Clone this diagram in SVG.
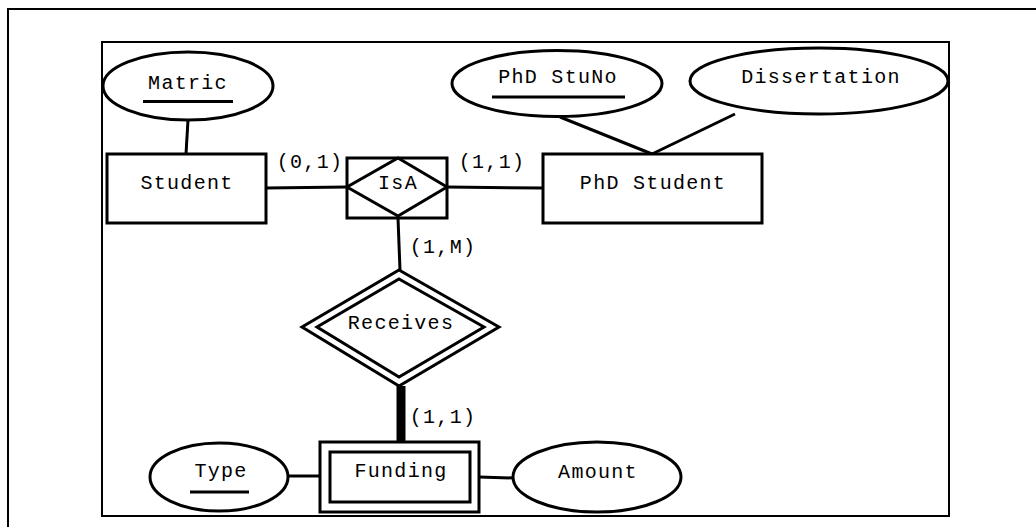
<svg xmlns="http://www.w3.org/2000/svg" width="1036" height="527" viewBox="0 0 1036 527">
<style>
.s{fill:none;stroke:#000;stroke-width:3}
.f{fill:#fff;stroke:#000;stroke-width:3}
.t{font-family:"Liberation Mono","Courier New",monospace;font-size:20px;letter-spacing:1.3px;text-anchor:middle;fill:#000}
.u{stroke:#000;stroke-width:3}
</style>
<rect width="1036" height="527" fill="#fff"/>
<rect id="outer-frame" x="8" y="9" width="1100" height="600" fill="none" stroke="#000" stroke-width="2"/>
<rect id="inner-frame" x="102" y="42" width="847" height="474" fill="none" stroke="#000" stroke-width="2"/>
<g id="connectors">
<line class="s" x1="188" y1="120" x2="186" y2="154"/>
<line class="s" x1="266" y1="188" x2="347" y2="187"/>
<line class="s" x1="447" y1="187" x2="543" y2="188"/>
<line class="s" x1="560" y1="117" x2="652" y2="154"/>
<line class="s" x1="735" y1="114" x2="652" y2="154"/>
<line class="s" x1="398" y1="218" x2="400" y2="270"/>
<line x1="401" y1="386" x2="401" y2="442" stroke="#000" stroke-width="9"/>
<line class="s" x1="288" y1="476" x2="320" y2="476"/>
<line class="s" x1="479" y1="477" x2="514" y2="478"/>
<text class="t" x="310" y="168">(0,1)</text>
<text class="t" x="492" y="168">(1,1)</text>
<text class="t" x="443" y="253">(1,M)</text>
<text class="t" x="443" y="423">(1,1)</text>
</g>
<g id="matric">
<ellipse class="f" cx="188" cy="86" rx="85" ry="34"/>
<text class="t" x="188" y="89">Matric</text>
<line class="u" x1="143" y1="101.5" x2="233" y2="101.5"/>
</g>
<g id="student">
<rect class="f" x="107" y="154" width="159" height="69"/>
<text class="t" x="187" y="189">Student</text>
</g>
<g id="isa">
<rect class="f" x="347" y="158" width="100" height="60"/>
<polygon class="s" points="398,158 447,187 398,216 347,187"/>
<text class="t" x="398" y="189">IsA</text>
</g>
<g id="phd-stuno">
<ellipse class="f" cx="557" cy="83.5" rx="105" ry="33"/>
<text class="t" x="558" y="83">PhD StuNo</text>
<line class="u" x1="492" y1="97" x2="625" y2="97"/>
</g>
<g id="dissertation">
<ellipse class="f" cx="819" cy="81" rx="129" ry="33"/>
<text class="t" x="821" y="83">Dissertation</text>
</g>
<g id="phd-student">
<rect class="f" x="543" y="154" width="219" height="69"/>
<text class="t" x="653" y="189">PhD Student</text>
</g>
<g id="receives">
<polygon class="f" points="399,270 499,327 399,386 302,327"/>
<polygon class="s" points="399,279 484,327 399,377 317,327"/>
<text class="t" x="401" y="329">Receives</text>
</g>
<g id="funding">
<rect class="f" x="320" y="442" width="159" height="70"/>
<rect class="s" x="330" y="452" width="140" height="50"/>
<text class="t" x="401" y="477">Funding</text>
</g>
<g id="type">
<ellipse class="f" cx="219" cy="477" rx="69" ry="34"/>
<text class="t" x="221" y="477">Type</text>
<line class="u" x1="190" y1="492" x2="249" y2="492"/>
</g>
<g id="amount">
<ellipse class="f" cx="597" cy="477" rx="84" ry="35"/>
<text class="t" x="598" y="478">Amount</text>
</g>
</svg>
